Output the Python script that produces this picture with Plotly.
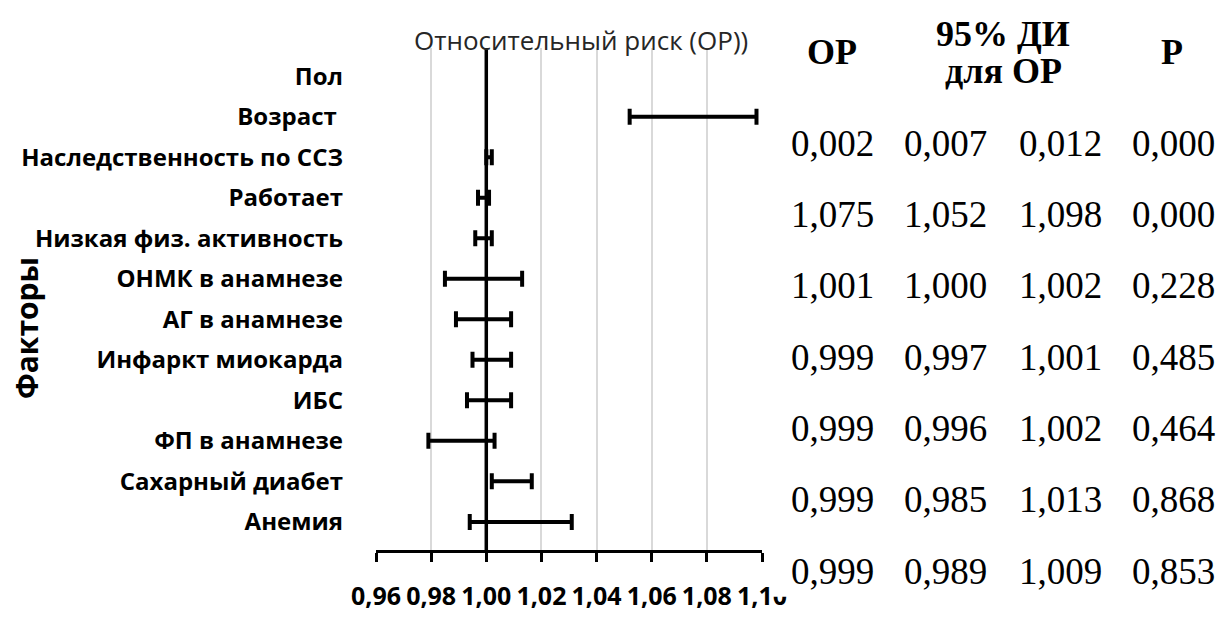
import plotly.graph_objects as go

# ---------------- data ----------------
factors = ["Пол", "Возраст ", "Наследственность по ССЗ", "Работает",
           "Низкая физ. активность", "ОНМК в анамнезе", "АГ в анамнезе",
           "Инфаркт миокарда", "ИБС", "ФП в анамнезе", "Сахарный диабет", "Анемия"]
rr_est = [0.002, 1.075, 1.001, 0.999, 0.999, 0.999, 0.999, 1.002, 1.001, 0.991, 1.009, 1.012]
ci_low = [0.007, 1.052, 1.000, 0.997, 0.996, 0.985, 0.989, 0.995, 0.993, 0.979, 1.002, 0.994]
ci_high = [0.012, 1.098, 1.002, 1.001, 1.002, 1.013, 1.009, 1.009, 1.009, 1.003, 1.0165, 1.031]
p_vals = [0.000, 0.000, 0.228, 0.485, 0.464, 0.868, 0.853]
n_table_rows = 7

x_ticks = [0.96, 0.98, 1.00, 1.02, 1.04, 1.06, 1.08, 1.10]
ref_value = 1.00

title_text = "Относительный риск (ОР))"
ytitle_text = "Факторы"

# ---------------- layout geometry (pixels) ----------------
W, H = 1219, 624
L, R, T, B = 376, 762, 48, 575


def px(xp):
    return (xp - L) / (R - L)


def py(yp):
    return (B - yp) / (B - T)


def fmt(v):
    return f"{v:.3f}".replace(".", ",")


fig = go.Figure()

fig.add_trace(go.Scatter(
    x=rr_est, y=factors, mode="markers",
    marker=dict(size=1, color="rgba(0,0,0,0)"),
    error_x=dict(type="data", symmetric=False,
                 array=[h - e for h, e in zip(ci_high, rr_est)],
                 arrayminus=[e - l for e, l in zip(rr_est, ci_low)],
                 color="black", thickness=4, width=8),
    cliponaxis=True, showlegend=False, hoverinfo="skip",
))

shapes = [
    dict(type="line", xref="x", yref="paper", x0=ref_value, x1=ref_value, y0=0, y1=1,
         line=dict(color="black", width=3.5), layer="above"),
    # hide the clipped part of last tick label, as in reference
    dict(type="rect", xref="paper", yref="paper", x0=px(771), x1=px(800), y0=py(624), y1=py(590),
         fillcolor="white", line=dict(width=0), layer="above"),
]

annotations = [
    dict(text=title_text, xref="paper", yref="paper", x=px(581), y=py(40),
         showarrow=False, xanchor="center", yanchor="middle",
         font=dict(family="Open Sans", size=26, color="#262626")),
    dict(text=ytitle_text, xref="paper", yref="paper", x=px(26), y=py(342),
         showarrow=False, xanchor="center", yanchor="middle", textangle=-90,
         font=dict(family="Open Sans", size=30, color="black", weight="bold")),
]

col_x = [832, 945, 1060, 1173]
row_y0, row_dy = 148, 74.9
serif = "Liberation Serif"

header_specs = [("<b>ОР</b>", 832, 52), ("<b>95% ДИ</b>", 1003, 33),
                ("<b>для ОР</b>", 1003, 72), ("<b>Р</b>", 1172, 52)]
for txt, hx, hy in header_specs:
    annotations.append(dict(text=txt, xref="paper", yref="paper", x=px(hx), y=py(hy),
                            showarrow=False, xanchor="center", yanchor="middle",
                            font=dict(family=serif, size=36, color="black")))

for i in range(n_table_rows):
    vals = [rr_est[i], ci_low[i], ci_high[i], p_vals[i]]
    for cx, v in zip(col_x, vals):
        annotations.append(dict(text=fmt(v), xref="paper", yref="paper",
                                x=px(cx), y=py(row_y0 + i * row_dy),
                                showarrow=False, xanchor="center", yanchor="middle",
                                font=dict(family=serif, size=37, color="black")))

fig.update_layout(
    width=W, height=H,
    margin=dict(l=L, r=W - R, t=T, b=H - B, pad=0),
    paper_bgcolor="white", plot_bgcolor="white",
    separators=", ",
    shapes=shapes, annotations=annotations,
    xaxis=dict(range=[x_ticks[0], x_ticks[-1]], tickvals=x_ticks, tickformat=".2f",
               showgrid=True, gridcolor="#d9d9d9", gridwidth=1.5,
               showline=True, linecolor="black", linewidth=3,
               ticks="outside", ticklen=9, tickwidth=3, tickcolor="black",
               zeroline=False, ticklabelstandoff=13,
               tickfont=dict(family="Open Sans", size=25, color="black", weight="bold")),
    yaxis=dict(categoryorder="array", categoryarray=factors, autorange="reversed",
               showgrid=False, showline=False, zeroline=False, ticks="",
               ticklabelstandoff=32,
               tickfont=dict(family="Open Sans", size=24, color="black", weight="bold")),
)

fig.write_html("out.html", config={"displayModeBar": False},
               post_script="document.body.style.margin='0';document.body.style.overflow='hidden';")
